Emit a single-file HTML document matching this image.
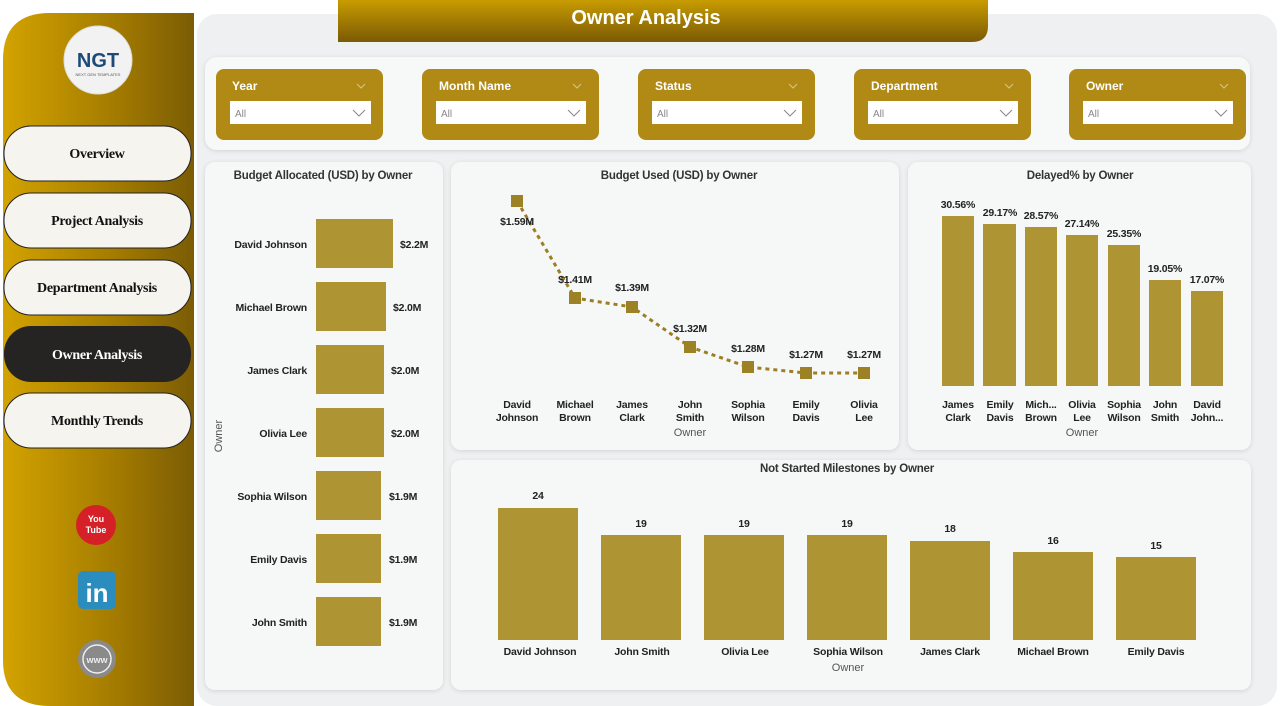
<!DOCTYPE html>
<html><head><meta charset="utf-8"><style>
html,body{margin:0;padding:0;width:1280px;height:706px;overflow:hidden;background:#fff}
svg{display:block}
text{font-family:"Liberation Sans",sans-serif}
.n{font-size:10.5px;font-weight:bold;fill:#222;letter-spacing:-0.2px}
.t{font-size:11.5px;font-weight:bold;fill:#333;letter-spacing:-0.2px}
.nav{font-family:"Liberation Serif",serif;font-size:14px;font-weight:bold;fill:#111;letter-spacing:-0.3px}
.ft{font-size:12px;font-weight:bold;fill:#fff}
.ax{font-size:11px;fill:#555}
</style></head><body>
<svg width="1280" height="706" viewBox="0 0 1280 706">
<defs>
<linearGradient id="sb" x1="0" x2="1"><stop offset="0" stop-color="#d3a300"/><stop offset="0.6" stop-color="#a27a00"/><stop offset="1" stop-color="#7b5c05"/></linearGradient>
<linearGradient id="tt" x1="0" y1="0" x2="0" y2="1"><stop offset="0" stop-color="#c89c00"/><stop offset="1" stop-color="#7a5a05"/></linearGradient>
<filter id="sh" x="-5%" y="-5%" width="110%" height="110%"><feDropShadow dx="0" dy="1" stdDeviation="2" flood-color="#000" flood-opacity="0.12"/></filter>
</defs>
<rect x="197" y="14" width="1080" height="692" rx="20" fill="#eef0f1"/>
<path d="M50,13 H194 V706 H50 Q3,706 3,660 V60 Q3,13 50,13 Z" fill="url(#sb)"/>
<circle cx="98" cy="60" r="34" fill="#f2f2f2" stroke="#ddd"/>
<text x="98" y="67" text-anchor="middle" font-size="20" font-weight="bold" fill="#1e4a78">NGT</text>
<text x="98" y="76" text-anchor="middle" font-size="4" fill="#555">NEXT GEN TEMPLATES</text>
<g>
<rect x="4" y="126" width="187" height="55" rx="27" fill="#f6f4ee" stroke="#222"/><text class="nav" x="97" y="158" text-anchor="middle">Overview</text>
<rect x="4" y="193" width="187" height="55" rx="27" fill="#f6f4ee" stroke="#222"/><text class="nav" x="97" y="225" text-anchor="middle">Project Analysis</text>
<rect x="4" y="260" width="187" height="55" rx="27" fill="#f6f4ee" stroke="#222"/><text class="nav" x="97" y="292" text-anchor="middle">Department Analysis</text>
<rect x="4" y="326" width="187" height="56" rx="27" fill="#252423"/><text class="nav" x="97" y="359" text-anchor="middle" style="fill:#fff">Owner Analysis</text>
<rect x="4" y="393" width="187" height="55" rx="27" fill="#f6f4ee" stroke="#222"/><text class="nav" x="97" y="425" text-anchor="middle">Monthly Trends</text>
</g>
<circle cx="96" cy="525" r="20" fill="#d62027"/><text x="96" y="522" text-anchor="middle" font-size="9" font-weight="bold" fill="#fff">You</text><text x="96" y="533" text-anchor="middle" font-size="9" font-weight="bold" fill="#fff">Tube</text>
<rect x="78" y="571" width="38" height="38" rx="5" fill="#2a8dbd"/><text x="97" y="602" text-anchor="middle" font-size="26" font-weight="bold" fill="#fff">in</text>
<circle cx="97" cy="659" r="19" fill="#8a8a8a"/><circle cx="97" cy="659" r="14" fill="none" stroke="#eee" stroke-width="1.5"/><text x="97" y="663" text-anchor="middle" font-size="9" font-weight="bold" fill="#eee">www</text>
<path d="M338,0 H988 V26 Q988,42 972,42 H338 Z" fill="url(#tt)"/>
<text x="646" y="24" text-anchor="middle" font-size="20" font-weight="bold" fill="#fff">Owner Analysis</text>
<rect x="205" y="57" width="1045" height="93" rx="12" fill="#f7f8f8" filter="url(#sh)"/>
<g>
<rect x="216" y="69" width="167" height="71" rx="8" fill="#b08a14"/>
<text class="ft" x="232" y="90">Year</text><path d="M357,84 l4,4 l4,-4" stroke="#d9c58a" fill="none"/>
<rect x="230" y="101" width="141" height="23" fill="#fff"/><text x="235" y="117" font-size="10" fill="#888">All</text><path d="M353,110 l6,6 l6,-6" stroke="#888" fill="none"/>
</g>
<g transform="translate(206,0)"><rect x="216" y="69" width="177" height="71" rx="8" fill="#b08a14"/><text class="ft" x="233" y="90">Month Name</text><path d="M367,84 l4,4 l4,-4" stroke="#d9c58a" fill="none"/><rect x="230" y="101" width="150" height="23" fill="#fff"/><text x="235" y="117" font-size="10" fill="#888">All</text><path d="M362,110 l6,6 l6,-6" stroke="#888" fill="none"/></g>
<g transform="translate(422,0)"><rect x="216" y="69" width="177" height="71" rx="8" fill="#b08a14"/><text class="ft" x="233" y="90">Status</text><path d="M367,84 l4,4 l4,-4" stroke="#d9c58a" fill="none"/><rect x="230" y="101" width="150" height="23" fill="#fff"/><text x="235" y="117" font-size="10" fill="#888">All</text><path d="M362,110 l6,6 l6,-6" stroke="#888" fill="none"/></g>
<g transform="translate(638,0)"><rect x="216" y="69" width="177" height="71" rx="8" fill="#b08a14"/><text class="ft" x="233" y="90">Department</text><path d="M367,84 l4,4 l4,-4" stroke="#d9c58a" fill="none"/><rect x="230" y="101" width="150" height="23" fill="#fff"/><text x="235" y="117" font-size="10" fill="#888">All</text><path d="M362,110 l6,6 l6,-6" stroke="#888" fill="none"/></g>
<g transform="translate(853,0)"><rect x="216" y="69" width="177" height="71" rx="8" fill="#b08a14"/><text class="ft" x="233" y="90">Owner</text><path d="M367,84 l4,4 l4,-4" stroke="#d9c58a" fill="none"/><rect x="230" y="101" width="150" height="23" fill="#fff"/><text x="235" y="117" font-size="10" fill="#888">All</text><path d="M362,110 l6,6 l6,-6" stroke="#888" fill="none"/></g>
<rect x="205" y="162" width="238" height="528" rx="10" fill="#f6f7f7" filter="url(#sh)"/>
<rect x="451" y="162" width="448" height="288" rx="10" fill="#f6f7f7" filter="url(#sh)"/>
<rect x="908" y="162" width="343" height="288" rx="10" fill="#f6f7f7" filter="url(#sh)"/>
<rect x="451" y="460" width="800" height="230" rx="10" fill="#f6f7f7" filter="url(#sh)"/>
<text class="t" x="323" y="179" text-anchor="middle">Budget Allocated (USD) by Owner</text>
<text class="ax" transform="translate(222,436) rotate(-90)" text-anchor="middle" font-size="10">Owner</text>
<g fill="#ae9433">
<rect x="316" y="219" width="77" height="49"/><rect x="316" y="282" width="70" height="49"/><rect x="316" y="345" width="68" height="49"/><rect x="316" y="408" width="68" height="49"/><rect x="316" y="471" width="65" height="49"/><rect x="316" y="534" width="65" height="49"/><rect x="316" y="597" width="65" height="49"/>
</g>
<g class="n" text-anchor="end">
<text x="307" y="248">David Johnson</text><text x="307" y="311">Michael Brown</text><text x="307" y="374">James Clark</text><text x="307" y="437">Olivia Lee</text><text x="307" y="500">Sophia Wilson</text><text x="307" y="563">Emily Davis</text><text x="307" y="626">John Smith</text>
</g>
<g class="n">
<text x="400" y="248">$2.2M</text><text x="393" y="311">$2.0M</text><text x="391" y="374">$2.0M</text><text x="391" y="437">$2.0M</text><text x="389" y="500">$1.9M</text><text x="389" y="563">$1.9M</text><text x="389" y="626">$1.9M</text>
</g>
<text class="t" x="679" y="179" text-anchor="middle">Budget Used (USD) by Owner</text>
<polyline points="517,201 575,298 632,307 690,347 748,367 806,373 864,373" fill="none" stroke="#9c7f22" stroke-width="3" stroke-dasharray="4,4"/>
<g fill="#9c8125">
<rect x="511" y="195" width="12" height="12"/><rect x="569" y="292" width="12" height="12"/><rect x="626" y="301" width="12" height="12"/><rect x="684" y="341" width="12" height="12"/><rect x="742" y="361" width="12" height="12"/><rect x="800" y="367" width="12" height="12"/><rect x="858" y="367" width="12" height="12"/>
</g>
<g class="n" text-anchor="middle">
<text x="517" y="225">$1.59M</text><text x="575" y="283">$1.41M</text><text x="632" y="291">$1.39M</text><text x="690" y="332">$1.32M</text><text x="748" y="352">$1.28M</text><text x="806" y="358">$1.27M</text><text x="864" y="358">$1.27M</text>
<text x="517" y="408">David</text><text x="517" y="421">Johnson</text>
<text x="575" y="408">Michael</text><text x="575" y="421">Brown</text>
<text x="632" y="408">James</text><text x="632" y="421">Clark</text>
<text x="690" y="408">John</text><text x="690" y="421">Smith</text>
<text x="748" y="408">Sophia</text><text x="748" y="421">Wilson</text>
<text x="806" y="408">Emily</text><text x="806" y="421">Davis</text>
<text x="864" y="408">Olivia</text><text x="864" y="421">Lee</text>
</g>
<text class="ax" x="690" y="436" text-anchor="middle">Owner</text>
<text class="t" x="1080" y="179" text-anchor="middle">Delayed% by Owner</text>
<g fill="#ae9433">
<rect x="942" y="216" width="32" height="170"/><rect x="983" y="224" width="33" height="162"/><rect x="1025" y="227" width="32" height="159"/><rect x="1066" y="235" width="32" height="151"/><rect x="1108" y="245" width="32" height="141"/><rect x="1149" y="280" width="32" height="106"/><rect x="1191" y="291" width="32" height="95"/>
</g>
<g class="n" text-anchor="middle">
<text x="958" y="208">30.56%</text><text x="1000" y="216">29.17%</text><text x="1041" y="219">28.57%</text><text x="1082" y="227">27.14%</text><text x="1124" y="237">25.35%</text><text x="1165" y="272">19.05%</text><text x="1207" y="283">17.07%</text>
<text x="958" y="408">James</text><text x="958" y="421">Clark</text>
<text x="1000" y="408">Emily</text><text x="1000" y="421">Davis</text>
<text x="1041" y="408">Mich...</text><text x="1041" y="421">Brown</text>
<text x="1082" y="408">Olivia</text><text x="1082" y="421">Lee</text>
<text x="1124" y="408">Sophia</text><text x="1124" y="421">Wilson</text>
<text x="1165" y="408">John</text><text x="1165" y="421">Smith</text>
<text x="1207" y="408">David</text><text x="1207" y="421">John...</text>
</g>
<text class="ax" x="1082" y="436" text-anchor="middle">Owner</text>
<text class="t" x="847" y="472" text-anchor="middle">Not Started Milestones by Owner</text>
<g fill="#ae9433">
<rect x="498" y="508" width="80" height="132"/><rect x="601" y="535" width="80" height="105"/><rect x="704" y="535" width="80" height="105"/><rect x="807" y="535" width="80" height="105"/><rect x="910" y="541" width="80" height="99"/><rect x="1013" y="552" width="80" height="88"/><rect x="1116" y="557" width="80" height="83"/>
</g>
<g class="n" text-anchor="middle">
<text x="538" y="499">24</text><text x="641" y="527">19</text><text x="744" y="527">19</text><text x="847" y="527">19</text><text x="950" y="532">18</text><text x="1053" y="544">16</text><text x="1156" y="549">15</text>
<text x="540" y="655">David Johnson</text><text x="642" y="655">John Smith</text><text x="745" y="655">Olivia Lee</text><text x="848" y="655">Sophia Wilson</text><text x="950" y="655">James Clark</text><text x="1053" y="655">Michael Brown</text><text x="1156" y="655">Emily Davis</text>
</g>
<text class="ax" x="848" y="671" text-anchor="middle" font-size="10">Owner</text>
</svg>
</body></html>
